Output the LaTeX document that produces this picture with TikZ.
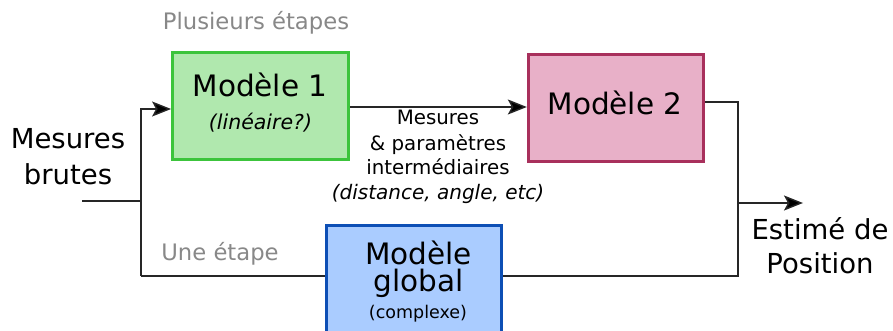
\documentclass[tikz,border=0pt]{standalone}
\usepackage{fontspec}
\setmainfont{DejaVu Sans}
\usetikzlibrary{arrows.meta,calc}
\definecolor{gfill}{HTML}{B0E8AE}
\definecolor{gdraw}{HTML}{3CC43C}
\definecolor{pfill}{HTML}{E8B0C8}
\definecolor{pdraw}{HTML}{A8305C}
\definecolor{bfill}{HTML}{AACCFF}
\definecolor{bdraw}{HTML}{0D4FB5}
\definecolor{graytxt}{HTML}{888888}
\begin{document}
\begin{tikzpicture}[x=1pt,y=-1pt,
  box/.style={draw, line width=2.8pt, inner sep=0pt, anchor=center},
  txt/.style={inner sep=0pt, anchor=base},
  big/.style={txt, font=\fontsize{29.5}{29.5}\selectfont},
  lab/.style={txt, font=\fontsize{27.5}{27.5}\selectfont},
  mid/.style={txt, font=\fontsize{19.8}{19.8}\selectfont},
  sub/.style={txt, font=\fontsize{20.5}{20.5}\selectfont\itshape},
  gry/.style={txt, text=graytxt, font=\fontsize{22.7}{22.7}\selectfont},
  conn/.style={draw=black!85, line width=1.4pt},
  arr/.style={conn, -{Stealth[length=19pt,width=15pt,inset=4pt,fill=black]}}]
\useasboundingbox (0,0) rectangle (893,331);
% boxes
\node[box, fill=gfill, draw=gdraw, minimum width=176pt, minimum height=107.5pt] (m1) at (260.5,106) {};
\node[box, fill=pfill, draw=pdraw, minimum width=175.5pt, minimum height=107.5pt] (m2) at (616,108) {};
\node[box, fill=bfill, draw=bdraw, minimum width=175.5pt, minimum height=130pt] (mg) at (414,290.5) {};
% texts
\node[big] (t1) at (260,97) {Modèle 1};
\node[sub] (t1b) at (260.5,130) {(linéaire?)};
\node[big] (t2) at (615,115) {Modèle 2};
\node[big] (tg1) at (418.5,264) {Modèle};
\node[big] (tg2) at (418.5,291) {global};
\node[txt, font=\fontsize{17.5}{17.5}\selectfont] (tg3) at (418,318) {(complexe)};
\node[lab] (in1) at (68,149) {Mesures};
\node[lab] (in2) at (68,185) {brutes};
\node[lab] (out1) at (820,239) {Estimé de};
\node[lab] (out2) at (820,273) {Position};
\node[gry] (g1) at (256,30) {Plusieurs étapes};
\node[gry] (g2) at (220,260) {Une étape};
\node[mid] (c1) at (438,125) {Mesures};
\node[mid] (c2) at (438,150) {\& paramètres};
\node[mid] (c3) at (438,175) {intermédiaires};
\node[mid, font=\fontsize{20}{20}\selectfont\itshape] (c4) at (438,199) {(distance, angle, etc)};
% connectors
\coordinate (src) at (82,201);
\coordinate (ja) at (141,201);
\coordinate (jab) at (141,276);
\coordinate (jb) at (738,102);
\coordinate (jbm) at (738,203);
\coordinate (jbb) at (738,276);
\coordinate (dst) at (803,203);
\draw[conn] (src) -- (ja);
\draw[arr] (jab) -- (ja) |- ([yshift=-3pt]m1.west);
\draw[conn] (jab) -- (mg.west |- jab);
\draw[arr] ([yshift=-1pt]m1.east) -- ([yshift=1pt]m2.west);
\draw[conn] ([yshift=6pt]m2.east) -- (jb) -- (jbb) -- (mg.east |- jbb);
\draw[arr] (jbm) -- (dst);
\end{tikzpicture}
\end{document}
